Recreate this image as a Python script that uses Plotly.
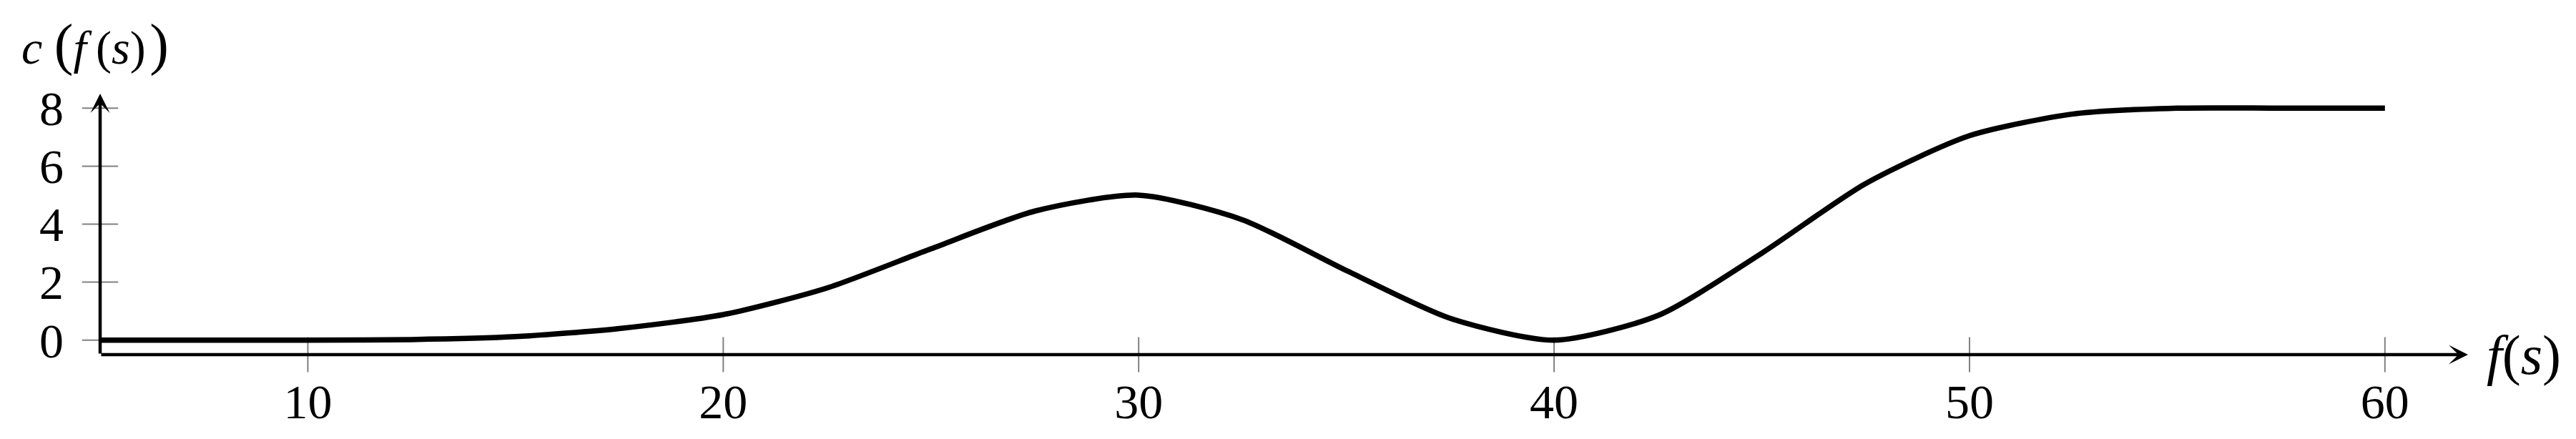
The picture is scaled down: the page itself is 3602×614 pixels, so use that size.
import plotly.graph_objects as go

# values
f_s = [5, 7.5, 10, 12.5, 15, 17.5, 20, 22.5, 25, 27.5, 30, 32.5, 35, 37.5, 40,
       42.5, 45, 47.5, 50, 52.5, 55, 57.5, 60]
c_f = [0, 0, 0, 0.02, 0.12, 0.4, 0.88, 1.8, 3.15, 4.45, 5.0, 4.15, 2.4, 0.75, 0,
       0.85, 3.0, 5.4, 7.05, 7.8, 8.0, 8.0, 8.0]

x_ticks = [10, 20, 30, 40, 50, 60]
y_ticks = [0, 2, 4, 6, 8]

x_min, x_max = 5, 62
y_min, y_max = -0.5, 8.5

font_name = "Liberation Serif"
fsize = 68

fig = go.Figure()

# tick marks crossing the axis lines
fig.add_trace(go.Scatter(
    x=x_ticks, y=[y_min] * len(x_ticks), mode="markers",
    marker=dict(symbol="line-ns", size=35, line=dict(color="#808080", width=2)),
    hoverinfo="skip", cliponaxis=False))
fig.add_trace(go.Scatter(
    x=[x_min] * len(y_ticks), y=y_ticks, mode="markers",
    marker=dict(symbol="line-ew", size=36, line=dict(color="#808080", width=2)),
    hoverinfo="skip", cliponaxis=False))

# the curve
fig.add_trace(go.Scatter(
    x=f_s, y=c_f, mode="lines",
    line=dict(color="black", width=7.5, shape="spline", smoothing=0.7),
    cliponaxis=False))

# axis lines with arrows
fig.add_annotation(x=x_max, y=y_min, ax=x_min, ay=y_min, xref="x", yref="y",
                   axref="x", ayref="y", text="", showarrow=True,
                   arrowhead=3, arrowsize=1.0, arrowwidth=4.5, arrowcolor="black")
fig.add_annotation(x=x_min, y=y_max, ax=x_min, ay=y_min, xref="x", yref="y",
                   axref="x", ayref="y", text="", showarrow=True,
                   arrowhead=3, arrowsize=1.0, arrowwidth=4.5, arrowcolor="black")

# axis titles
fig.add_annotation(x=x_max, y=y_min, xref="x", yref="y", xanchor="left", yanchor="middle",
                   xshift=24, yshift=0, showarrow=False,
                   text="<i>f</i>(<i>s</i>)", font=dict(family=font_name, size=78, color="black"))
fig.add_annotation(x=0, y=1, xref="paper", yref="paper", xanchor="left", yanchor="bottom",
                   xshift=-112, yshift=22, showarrow=False,
                   text="<i>c</i> <span style='font-size:80px'>(</span><i>f</i>\u2009(<i>s</i>)\u200a"
                        "<span style='font-size:80px'>)</span>",
                   font=dict(family=font_name, size=66, color="black"))

fig.update_layout(
    width=3602, height=614,
    margin=dict(l=132, r=159, t=123, b=126),
    plot_bgcolor="white", paper_bgcolor="white",
    showlegend=False,
    xaxis=dict(range=[x_min, x_max], showgrid=False, zeroline=False, showline=False,
               automargin=False,
               tickvals=x_ticks, ticktext=[str(v) for v in x_ticks], ticks="",
               ticklabelstandoff=20,
               tickfont=dict(family=font_name, size=fsize, color="black")),
    yaxis=dict(range=[y_min, y_max], showgrid=False, zeroline=False, showline=False,
               automargin=False,
               tickvals=y_ticks, ticktext=[str(v) for v in y_ticks], ticks="",
               ticklabelstandoff=50,
               tickfont=dict(family=font_name, size=fsize, color="black")),
)

fig.write_html("out.html")
